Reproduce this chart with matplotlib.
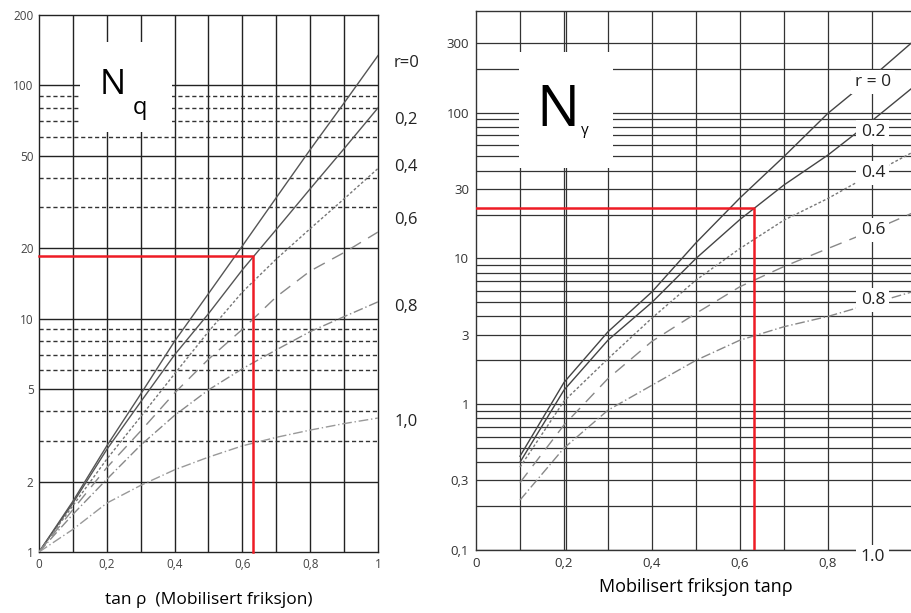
import matplotlib
matplotlib.use("Agg")
import matplotlib.pyplot as plt
from matplotlib.patches import Rectangle

plt.rcParams['font.family'] = ['Open Sans', 'DejaVu Sans']

# Nq chart (left), values read at tan(rho) = 0 ... 1
x_nq = [0, 0.1, 0.2, 0.3, 0.4, 0.5, 0.6, 0.7, 0.8, 0.9, 1.0]
nq_r0 = [1, 1.65, 2.85, 4.75, 8.0, 12.8, 20.5, 33, 53, 84, 134]
nq_r02 = [1, 1.62, 2.75, 4.4, 7.0, 10.5, 16.2, 24.1, 36, 53.5, 80]
nq_r04 = [1, 1.58, 2.5, 3.8, 5.8, 8.8, 13.0, 18.0, 24.3, 32.6, 44]
nq_r06 = [1, 1.52, 2.3, 3.3, 4.8, 6.7, 9.0, 12.4, 16.0, 19.2, 23.5]
nq_r08 = [1, 1.45, 2.05, 2.87, 3.85, 4.95, 6.1, 7.35, 8.8, 10.2, 11.8]
nq_r10 = [1, 1.25, 1.62, 1.93, 2.25, 2.55, 2.85, 3.1, 3.33, 3.55, 3.75]
nq_labels = ['r=0', '0,2', '0,4', '0,6', '0,8', '1,0']

# N-gamma chart (right), values read at tan(rho) = 0.1 ... 1
x_ng = [0.1, 0.2, 0.3, 0.4, 0.5, 0.6, 0.7, 0.8, 0.9, 1.0]
ng_r0 = [0.44, 1.41, 3.14, 5.9, 12.8, 26, 50, 99, 175, 320]
ng_r02 = [0.40, 1.25, 2.75, 5.0, 10.0, 18.5, 31.9, 51.2, 88, 155]
ng_r04 = [0.37, 1.05, 2.05, 3.9, 7.1, 11.7, 18.3, 25.8, 38, 55]
ng_r06 = [0.29, 0.72, 1.5, 2.7, 4.2, 6.4, 8.8, 11.7, 15.5, 21]
ng_r08 = [0.22, 0.50, 0.91, 1.35, 2.0, 2.75, 3.4, 4.0, 4.9, 6.0]
ng_labels = ['r = 0', '0.2', '0.4', '0.6', '0.8', '1.0']

# worked example (red)
tan_rho = 0.632
nq_read = 18.5
ng_read = 22.0

nq_ticks = [1, 2, 5, 10, 20, 50, 100, 200]
nq_ticklabels = ['1', '2', '5', '10', '20', '50', '100', '200']
ng_ticks = [0.1, 0.3, 1, 3, 10, 30, 100, 300]
ng_ticklabels = ['0,1', '0,3', '1', '3', '10', '30', '100', '300']
x_ticks = [0, 0.2, 0.4, 0.6, 0.8, 1.0]
x_ticklabels = ['0', '0,2', '0,4', '0,6', '0,8', '1']

fig = plt.figure(figsize=(9.12, 6.13), dpi=100)
ax1 = fig.add_axes([39 / 912, 1 - 552 / 613, 339 / 912, 537 / 613])
ax2 = fig.add_axes([476 / 912, 1 - 550 / 613, 440 / 912, 539.3 / 613])

# ---------- left: Nq ----------
ax1.set_yscale('log')
ax1.set_xlim(0, 1)
ax1.set_ylim(1, 200)
for v in [0.1 * i for i in range(1, 10)]:
    ax1.axvline(v, color='#222222', lw=1.0, zorder=1)
for v in [2, 5, 10, 20, 50, 100]:
    ax1.axhline(v, color='#222222', lw=1.0, zorder=1)
for v in [3, 4, 6, 7, 8, 9, 30, 40, 60, 70, 80, 90]:
    ax1.axhline(v, color='#333333', lw=1.0, ls=(0, (3, 2)), zorder=1)
ax1.add_patch(Rectangle((0.121, 63), 0.271, 90, facecolor='white',
                        edgecolor='none', zorder=2))
ax1.text(0.218, 100, 'N', fontsize=25, ha='center', va='center', zorder=3)
ax1.text(0.298, 80, 'q', fontsize=17, ha='center', va='center', zorder=3)

ax1.plot(x_nq, nq_r0, color='#555555', lw=1.0, zorder=4)
ax1.plot(x_nq, nq_r02, color='#555555', lw=1.0, zorder=4)
ax1.plot(x_nq, nq_r04, color='#777777', lw=1.0, ls=(0, (2, 1.5)), zorder=4)
ax1.plot(x_nq, nq_r06, color='#888888', lw=1.0, ls=(0, (9, 6)), zorder=4)
ax1.plot(x_nq, nq_r08, color='#888888', lw=1.0, ls=(0, (7, 2, 1, 2)), zorder=4)
ax1.plot(x_nq, nq_r10, color='#999999', lw=1.0, ls=(0, (7, 2, 1, 2)), zorder=4)

ax1.plot([0, tan_rho, tan_rho], [nq_read, nq_read, 1], color='#ee1c25',
         lw=1.8, zorder=5, clip_on=False)

for lab, yv in zip(nq_labels, [124, 71, 44.5, 26.4, 11.2, 3.6]):
    ax1.text(1.083, yv, lab, fontsize=12, ha='center', va='center',
             color='#222222', clip_on=False)

ax1.set_xticks(x_ticks)
ax1.set_xticklabels(x_ticklabels)
ax1.set_yticks(nq_ticks)
ax1.set_yticklabels(nq_ticklabels)
ax1.minorticks_off()
ax1.tick_params(length=0, labelsize=8.5, labelcolor='#444444', pad=4)
for s in ax1.spines.values():
    s.set_color('#222222')
    s.set_linewidth(1.0)
fig.text(208.5 / 912, 1 - 600 / 613, 'tan ρ  (Mobilisert friksjon)',
         fontsize=12.5, ha='center', va='center')

# ---------- right: N-gamma ----------
ax2.set_yscale('log')
ax2.set_xlim(0, 1)
ax2.set_ylim(0.1, 500)
for v in [0.1 * i for i in range(1, 10)] + [0.205]:
    ax2.axvline(v, color='#333333', lw=0.9, zorder=1)
hlines = [k * 10.0 ** e for e in (-1, 0, 1) for k in range(1, 10)] + [100, 200, 300]
for v in hlines:
    ax2.axhline(v, color='#333333', lw=0.9, zorder=1)
ax2.add_patch(Rectangle((0.098, 41.7), 0.214, 219, facecolor='white',
                        edgecolor='none', zorder=2))
ax2.text(0.186, 102, 'N', fontsize=41, ha='center', va='center', zorder=3)
ax2.text(0.248, 75, 'γ', fontsize=11, ha='center', va='center', zorder=3)

ax2.plot(x_ng, ng_r0, color='#444444', lw=1.0, zorder=4)
ax2.plot(x_ng, ng_r02, color='#444444', lw=1.0, zorder=4)
ax2.plot(x_ng, ng_r04, color='#777777', lw=1.0, ls=(0, (2, 1.5)), zorder=4)
ax2.plot(x_ng, ng_r06, color='#888888', lw=1.0, ls=(0, (9, 6)), zorder=4)
ax2.plot(x_ng, ng_r08, color='#888888', lw=1.0, ls=(0, (7, 2, 1, 2)), zorder=4)

ax2.plot([0, tan_rho, tan_rho], [ng_read, ng_read, 0.1], color='#ee1c25',
         lw=1.8, zorder=5)

for lab, yv in zip(ng_labels, [162, 73.6, 38.5, 15.7, 5.2, 0.0895]):
    ax2.text(0.902, yv, lab, fontsize=12.5, ha='center', va='center',
             color='#222222', zorder=6, clip_on=False,
             bbox=dict(facecolor='white', edgecolor='none', pad=3))

ax2.set_xticks(x_ticks[:-1])
ax2.set_xticklabels(x_ticklabels[:-1])
ax2.set_yticks(ng_ticks)
ax2.set_yticklabels(ng_ticklabels)
ax2.minorticks_off()
ax2.tick_params(length=0, labelsize=9.5, labelcolor='#333333', pad=5)
for s in ax2.spines.values():
    s.set_color('#333333')
    s.set_linewidth(1.0)
ax2.set_xlabel('Mobilisert friksjon tanρ', fontsize=13, labelpad=6)

fig.savefig('out.png', dpi=100)
